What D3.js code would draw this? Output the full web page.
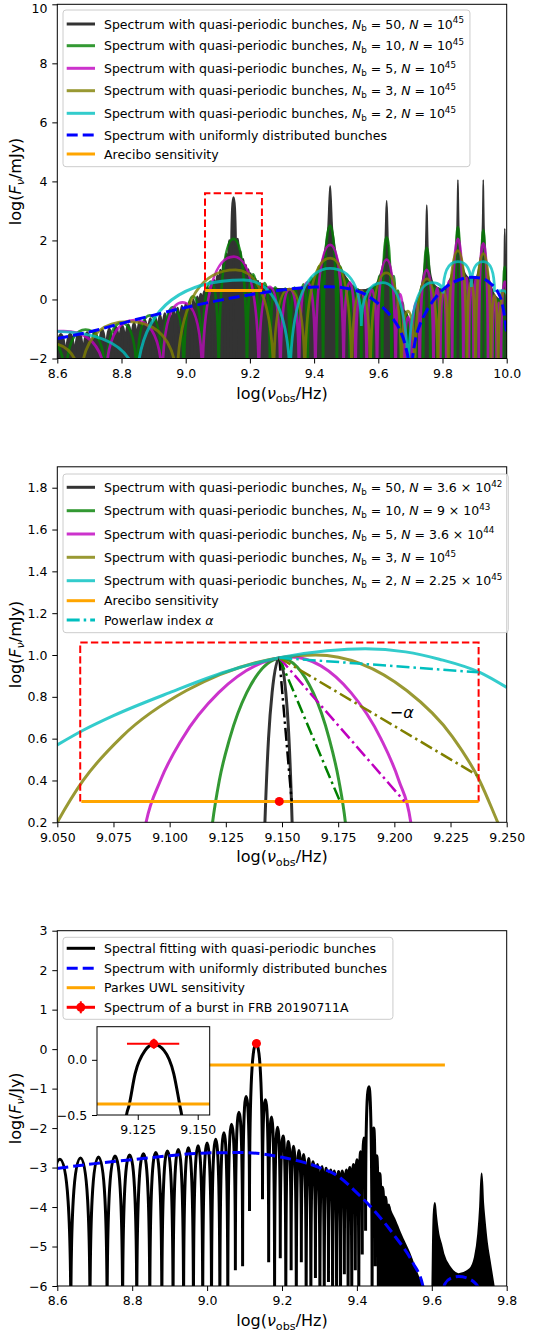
<!DOCTYPE html>
<html lang="en">
<head>
<meta charset="UTF-8">
<title>Spectra with quasi-periodic bunches</title>
<script src="https://d3js.org/d3.v7.min.js"></script>
<style>
  body { margin: 0; background: #fff; }
  svg text { font-family: "DejaVu Sans", sans-serif; white-space: pre; }
</style>
</head>
<body>
<svg id="fig" width="553" height="1333"></svg>
<script>
// ---------------- data (log nu, log F) ----------------
// panel 1: Nb = 50 low-frequency lobes (null, top, null, ...) and dense part envelope
const p1Nb50 = [[8.5964,-2.6],[8.611,-1.18],[8.6263,-2.6],[8.640,-1.17],[8.6544,-2.6],[8.668,-1.14],[8.6807,-2.6],[8.693,-1.12],
  [8.7055,-2.6],[8.717,-1.08],[8.7290,-2.6],[8.740,-1.03],[8.7513,-2.6],[8.762,-0.99],[8.7725,-2.6],[8.783,-0.94],
  [8.7927,-2.6],[8.802,-0.89],[8.8120,-2.6],[8.821,-0.85],[8.8305,-2.6],[8.839,-0.80],[8.8482,-2.6],[8.857,-0.75],
  [8.8652,-2.6],[8.873,-0.71],[8.8816,-2.6],[8.890,-0.65],[8.8974,-2.6],[8.905,-0.60],[8.9126,-2.6],[8.920,-0.54],
  [8.9274,-2.6],[8.935,-0.48],[8.9416,-2.6],[8.949,-0.42],[8.9554,-2.6],[8.962,-0.36],[8.9688,-2.6],[8.975,-0.29],
  [8.9817,-2.6],[8.988,-0.22],[8.9943,-2.6],[9.000,-0.15],[9.0065,-2.6],[9.012,-0.07],[9.0185,-2.6],[9.024,0.0],
  [9.0300,-2.6],[9.036,0.09],[9.0413,-2.6],[9.047,0.18],[9.0523,-2.6],[9.058,0.28],[9.0630,-2.6],[9.068,0.40],
  [9.0735,-2.6],[9.079,0.52],[9.0837,-2.6],[9.089,0.65],[9.0937,-2.6],[9.099,0.81],[9.1035,-2.6],[9.108,1.0],
  [9.1130,-2.6],[9.118,1.23],[9.1224,-2.6],[9.127,1.54],[9.1315,-2.6],[9.136,2.0],[9.1405,-2.6],[9.149,3.45],
  [9.1578,-2.6],[9.162,2.05],[9.1663,-2.6],[9.170,1.63],[9.1745,-2.6],[9.179,1.36],[9.1826,-2.6],[9.187,1.17],
  [9.1906,-2.6],[9.195,1.01],[9.1984,-2.6],[9.202,0.88],[9.2061,-2.6],[9.210,0.79],[9.2137,-2.6],[9.217,0.70],
  [9.2211,-2.6],[9.225,0.62],[9.2284,-2.6],[9.232,0.55],[9.2356,-2.6],[9.239,0.50],[9.2426,-2.6],[9.246,0.45],[9.2496,-2.6]];
const p1Nb50Dense = [[9.246,0.45],[9.26,0.4],[9.28,0.37],[9.30,0.36],[9.341,0.37],[9.383,0.52],[9.404,0.82],[9.417,1.09],
  [9.426,1.36],[9.435,1.75],[9.439,2.05],[9.4435,2.5],[9.447,3.4],[9.45,3.85],[9.453,3.4],[9.4565,2.5],[9.461,2.05],
  [9.465,1.75],[9.474,1.33],[9.483,1.07],[9.496,0.8],[9.517,0.5],[9.547,0.32],[9.581,0.42],[9.596,0.57],[9.604,0.79],
  [9.610,0.99],[9.616,1.32],[9.619,1.6],[9.6217,2.05],[9.6238,2.9],[9.626,3.35],[9.6282,2.9],[9.6303,2.0],[9.633,1.5],
  [9.636,1.25],[9.642,0.85],[9.648,0.55],[9.656,0.2],[9.671,-0.25],[9.69,-0.5],[9.70,-0.8],[9.71,-0.5],[9.717,-0.15],
  [9.728,0.17],[9.735,0.49],[9.739,0.74],[9.7434,1.12],[9.7456,1.41],[9.7477,1.85],[9.7494,2.7],[9.751,3.2],[9.7526,2.7],
  [9.7543,1.85],[9.7564,1.45],[9.7586,1.2],[9.763,0.85],[9.767,0.65],[9.774,0.5],[9.785,0.4],[9.80,0.35],[9.821,0.62],
  [9.83,0.92],[9.835,1.19],[9.8385,1.44],[9.842,1.82],[9.8437,2.11],[9.8454,2.55],[9.8467,3.4],[9.848,4.05],[9.8493,3.4],
  [9.8506,2.55],[9.8523,2.11],[9.854,1.85],[9.8575,1.5],[9.861,1.25],[9.866,1.0],[9.875,0.8],[9.888,0.7],[9.905,0.75],
  [9.912,1.0],[9.916,1.25],[9.919,1.5],[9.922,1.9],[9.9234,2.15],[9.9248,2.6],[9.926,3.4],[9.927,4.05],[9.928,3.4],
  [9.9292,2.55],[9.9306,2.1],[9.932,1.8],[9.935,1.4],[9.938,1.1],[9.943,0.8],[9.95,0.5],[9.96,0.2],[9.975,0.0],
  [9.985,-0.16],[9.9897,0.4],[9.9921,1.1],[9.993,1.9],[9.994,2.4],[9.995,1.9],[9.9959,1.1],[9.998,0.4],[10.0,-0.1],[10.005,-0.6]];
const p1Nb10 = [[8.450,-3],[8.538,-1.15],[8.626,-3],[8.688,-1.02],[8.751,-3],[8.800,-0.79],[8.848,-3],[8.888,-0.54],
  [8.927,-3],[8.961,-0.26],[8.994,-3],[9.023,0.1],[9.052,-3],[9.078,0.6],[9.103,-3],[9.149,2.05],[9.191,-3],[9.210,0.85],
  [9.228,-3],[9.246,0.55],[9.263,-3],[9.279,0.41],[9.295,-3],[9.310,0.37],[9.325,-3],[9.339,0.4],[9.353,-3],[9.367,0.51],
  [9.380,-3],[9.392,0.73],[9.404,-3],[9.416,1.12],[9.428,-3],[9.450,2.5],[9.471,-3],[9.482,1.1],[9.492,-3],[9.502,0.68],
  [9.511,-3],[9.520,0.45],[9.529,-3],[9.538,0.32],[9.547,-3],[9.556,0.27],[9.564,-3],[9.573,0.3],[9.581,-3],[9.589,0.45],
  [9.596,-3],[9.604,0.8],[9.612,-3],[9.626,2.1],[9.641,-3],[9.648,0.79],[9.654,-3],[9.661,0.3],[9.668,-3],[9.675,-0.1],
  [9.681,-3],[9.687,-0.48],[9.693,-3],[9.699,-0.68],[9.705,-3],[9.711,-0.4],[9.717,-3],[9.723,-0.05],[9.729,-3],[9.735,0.44],
  [9.740,-3],[9.751,1.75],[9.762,-3],[9.767,0.59],[9.772,-3],[9.778,0.4],[9.783,-3],[9.788,0.35],[9.793,-3],[9.798,0.32],
  [9.802,-3],[9.807,0.33],[9.812,-3],[9.817,0.46],[9.821,-3],[9.826,0.68],[9.830,-3],[9.835,1.09],[9.839,-3],[9.848,2.45],
  [9.857,-3],[9.861,1.09],[9.865,-3],[9.870,0.72],[9.874,-3],[9.878,0.52],[9.882,-3],[9.886,0.45],[9.890,-3],[9.894,0.45],
  [9.897,-3],[9.901,0.52],[9.905,-3],[9.909,0.72],[9.913,-3],[9.917,1.09],[9.920,-3],[9.927,2.35],[9.935,-3],[9.939,0.99],
  [9.942,-3],[9.945,0.55],[9.948,-3],[9.952,0.3],[9.955,-3],[9.959,0.12],[9.962,-3],[9.966,0.0],[9.969,-3],[9.972,0.0],
  [9.975,-3],[9.979,0.05],[9.982,-3],[9.985,0.3],[9.988,-3],[9.994,1.1],[10.001,-3]];
const p1Nb5 = [[8.450,-3],[8.62,-1.07],[8.751,-3],[8.84,-0.7],[8.927,-3],[8.99,-0.1],[9.052,-3],[9.15,1.45],[9.228,-3],
  [9.262,0.43],[9.295,-3],[9.324,0.35],[9.353,-3],[9.379,0.58],[9.404,-3],[9.45,1.85],[9.492,-3],[9.511,0.58],[9.529,-3],
  [9.547,0.3],[9.564,-3],[9.58,0.33],[9.596,-3],[9.626,1.35],[9.654,-3],[9.668,0.18],[9.681,-3],[9.693,-0.6],[9.705,-3],
  [9.717,-0.12],[9.729,-3],[9.751,1.0],[9.772,-3],[9.783,0.38],[9.793,-3],[9.803,0.35],[9.812,-3],[9.821,0.63],[9.830,-3],
  [9.848,2.05],[9.865,-3],[9.874,0.73],[9.882,-3],[9.89,0.6],[9.897,-3],[9.905,0.73],[9.913,-3],[9.927,1.9],[9.942,-3],
  [9.948,0.48],[9.955,-3],[9.962,0.1],[9.969,-3],[9.975,-0.12],[9.982,-3],[9.994,0.6],[10.006,-3]];
const p1Nb3 = [[8.56,-1.45],[8.672,-3],[8.82,-0.75],[8.973,-3],[9.155,1.0],[9.274,-3],[9.322,0.35],[9.371,-3],[9.45,1.4],
  [9.517,-3],[9.546,0.3],[9.575,-3],[9.625,0.9],[9.672,-3],[9.692,-0.4],[9.7135,-3],[9.752,0.7],[9.786,-3],[9.802,0.35],
  [9.818,-3],[9.848,1.65],[9.876,-3],[9.889,0.6],[9.9026,-3],[9.927,1.55],[9.951,-3],[9.962,0.15],[9.973,-3],[9.994,0.3],[10.0145,-3]];
const p1Nb2 = [[8.58,-1.08],[8.848,-3],[9.18,0.66],[9.325,-3],[9.45,1.05],[9.547,-0.9],[9.614,0.57],[9.693,-3],[9.767,0.57],
  [9.802,0.2],[9.848,1.28],[9.890,0.42],[9.927,1.28],[9.962,0.25],[9.99,0.3],[10.02,-2.5]];
const p1Uniform = [[8.6,-1.32],[8.7,-1.1],[8.8,-0.81],[8.9,-0.53],[9.0,-0.27],[9.1,-0.04],[9.2,0.16],[9.3,0.32],[9.4,0.42],
  [9.45,0.43],[9.5,0.38],[9.55,0.22],[9.6,-0.14],[9.63,-0.45],[9.65,-0.72],[9.67,-1.1],[9.685,-1.6],[9.695,-2.2],[9.70,-3.0],
  [9.705,-2.2],[9.715,-1.4],[9.73,-0.85],[9.75,-0.4],[9.775,0.02],[9.8,0.32],[9.85,0.66],[9.89,0.75],[9.92,0.72],[9.95,0.54],
  [9.97,0.3],[9.985,-0.1],[9.995,-0.7],[10.0,-1.15]];
const areciboBand = [9.0607, 9.2375], areciboLevel = 0.3;
const zoomBoxX = [9.0602, 9.2375], p1ZoomBoxY = [0.3, 3.6], p2ZoomBoxY = [0.3, 1.06];

// panel 2: zoom on the first harmonic
const p2Nb50 = [[9.1418,0.0],[9.1424,0.2],[9.144,0.6],[9.1456,0.82],[9.1488,0.987],[9.1517,0.82],[9.1531,0.6],[9.1545,0.2],[9.155,0.0]];
const p2Nb10 = [[9.117,0.0],[9.1191,0.2],[9.1221,0.4],[9.1267,0.6],[9.1343,0.82],[9.1495,0.985],[9.1639,0.82],[9.171,0.6],[9.1753,0.4],[9.1782,0.2],[9.18,0.0]];
const p2Nb5 = [[9.087,0.05],[9.0895,0.2],[9.0959,0.4],[9.1056,0.6],[9.1218,0.82],[9.154,0.99],[9.1807,0.82],[9.194,0.6],[9.202,0.4],[9.2073,0.2],[9.209,0.05]];
const p2Nb3 = [[9.045,0.1],[9.05,0.2],[9.0615,0.4],[9.0788,0.61],[9.1075,0.83],[9.165,1.0],[9.2055,0.83],[9.2258,0.61],[9.2379,0.4],[9.246,0.2],[9.25,0.1]];
const p2Nb2 = [[9.05,0.57],[9.0615,0.64],[9.075,0.71],[9.1,0.82],[9.125,0.92],[9.1488,0.987],[9.17,1.02],[9.187,1.03],[9.205,1.015],[9.22,0.98],[9.238,0.917],[9.25,0.845]];
const p2PowerStart = [9.1488, 0.987];
const p2PowerEnd = [[9.1543,0.3],[9.1758,0.3],[9.2045,0.3],[9.238,0.418],[9.2375,0.917]];
const p2Peak = [9.1488, 0.3];
const p2AlphaLabel = [9.198, 0.70];

// panel 3: fit of FRB 20190711A
const p3Fit = [[8.5781,-7],[8.607,-2.79],[8.6361,-7],[8.662,-2.76],[8.6873,-7],[8.710,-2.73],[8.7330,-7],[8.754,-2.71],
  [8.7744,-7],[8.793,-2.68],[8.8122,-7],[8.830,-2.65],[8.8470,-7],[8.863,-2.62],[8.8792,-7],[8.894,-2.58],
  [8.9091,-7],[8.923,-2.54],[8.9372,-7],[8.950,-2.5],[8.9635,-7],[8.976,-2.45],[8.9883,-7],[9.000,-2.38],
  [9.0118,-7],[9.023,-2.28],[9.0341,-7],[9.045,-2.12],[9.0553,-7],[9.065,-1.9],[9.0755,-5.6],[9.085,-1.6],
  [9.0948,-5.5],[9.104,-1.2],[9.1132,-4.1],[9.131,0.14],[9.1480,-3.8],[9.156,-1.28],[9.1644,-5.4],[9.172,-1.72],
  [9.1802,-6.5],[9.188,-1.98],[9.1954,-5.3],[9.203,-2.2],[9.2102,-7],[9.217,-2.34],[9.2244,-5.6],[9.231,-2.46],
  [9.2382,-7],[9.245,-2.57],[9.2516,-5.4],[9.258,-2.67],[9.2645,-7],[9.271,-2.77],[9.2771,-7],[9.283,-2.85],
  [9.2893,-5.8],[9.295,-2.92],[9.3012,-7],[9.307,-2.97],[9.3128,-7],[9.318,-3.02],[9.3241,-5.9],[9.330,-3.06],
  [9.3351,-7],[9.340,-3.09],[9.3458,-7],[9.351,-3.1],[9.3563,-7],[9.361,-3.09],[9.3665,-5.7],[9.372,-3.06],
  [9.3765,-7],[9.381,-3.0],[9.3863,-7],[9.391,-2.92],[9.3958,-5.6],[9.400,-2.8],[9.4051,-7],[9.410,-2.6],
  [9.4143,-5.2],[9.419,-2.25],[9.4232,-4.6],[9.432,-0.95],[9.4406,-7],[9.445,-2.0],[9.4490,-5.5],[9.453,-2.7],
  [9.4573,-7],[9.461,-3.15],[9.4654,-7],[9.469,-3.5],[9.4734,-7],[9.477,-3.75],[9.4812,-7],[9.485,-3.95],[9.4889,-7]];
const p3DenseA = [[9.485,-3.95],[9.49,-4.1],[9.5,-4.3],[9.507,-4.46],[9.515,-4.65],[9.524,-4.84],[9.54,-5.17],[9.557,-5.6],[9.567,-5.85],[9.5745,-6.05]];
const p3DenseB = [[9.6015,-6.1],[9.603,-5.0],[9.605,-4.2],[9.608,-3.9],[9.611,-4.2],[9.6175,-4.68],[9.625,-4.95],[9.631,-5.19],
  [9.649,-5.53],[9.671,-5.7],[9.702,-5.57],[9.715,-5.28],[9.724,-4.68],[9.729,-4.0],[9.733,-3.15],[9.737,-3.9],[9.741,-4.34],
  [9.747,-4.9],[9.756,-5.45],[9.766,-6.05]];
const p3UniformA = [[8.6,-3.02],[8.7,-2.9],[8.8,-2.8],[8.9,-2.7],[9.0,-2.63],[9.1,-2.62],[9.2,-2.74],[9.3,-3.0],[9.35,-3.22],
  [9.4,-3.64],[9.45,-4.13],[9.5,-4.72],[9.55,-5.42],[9.575,-5.95],[9.585,-6.4]];
const p3UniformB = [[9.622,-6.4],[9.635,-5.95],[9.652,-5.8],[9.672,-5.76],[9.695,-5.8],[9.718,-5.95],[9.74,-6.3]];
const parkesBand = [8.85, 9.635], parkesLevel = -0.4;
const burst = {x: 9.1317, y: 0.145, xlo: 9.1205, xhi: 9.1423, ylo: 0.1, yhi: 0.19};
const p3Inset = [[9.1195,-0.65],[9.1203,-0.5],[9.1213,-0.42],[9.1239,-0.125],[9.128,0.083],[9.1317,0.14],[9.136,0.083],
  [9.14,-0.125],[9.1426,-0.42],[9.1433,-0.5],[9.1441,-0.65]];

// ticks
const p1XTicks = [8.6, 8.8, 9.0, 9.2, 9.4, 9.6, 9.8, 10.0], p1YTicks = [-2, 0, 2, 4, 6, 8, 10];
const p2XTicks = [9.05, 9.075, 9.1, 9.125, 9.15, 9.175, 9.2, 9.225, 9.25], p2YTicks = [0.2, 0.4, 0.6, 0.8, 1.0, 1.2, 1.4, 1.6, 1.8];
const p3XTicks = [8.6, 8.8, 9.0, 9.2, 9.4, 9.6, 9.8], p3YTicks = [-6, -5, -4, -3, -2, -1, 0, 1, 2, 3];
const insetXTicks = [9.125, 9.15], insetYTicks = [0, -0.5];

// legend labels
const nbList = [50, 10, 5, 3, 2];
const p1NCoef = ["", "", "", "", ""], p1NExp = ["45", "45", "45", "45", "45"];
const p2NCoef = ["3.6", "9", "3.6", "", "2.25"], p2NExp = ["42", "43", "44", "45", "45"];

// ---------------- drawing ----------------
const svg = d3.select("#fig");
const col = {nb50: "#000", nb10: "#008000", nb5: "#bf00bf", nb3: "#808000", nb2: "#00bfbf",
  uni: "#0000ff", sens: "#ffa500", red: "#ff0000"};
const nbColors = [col.nb50, col.nb10, col.nb5, col.nb3, col.nb2];

// lobe-shaped curve: vertical at the lower end of each segment, flat at the upper end
function curveLobe(context) {
  let n = 0, px, py;
  return {
    areaStart() {}, areaEnd() {},
    lineStart() { n = 0; },
    lineEnd() {},
    point(x, y) {
      x = +x; y = +y;
      if (n++ === 0) context.moveTo(x, y);
      else if (y < py) context.quadraticCurveTo(px, y, x, y);
      else context.quadraticCurveTo(x, py, x, y);
      px = x; py = y;
    }
  };
}

const defs = svg.append("defs");
function clipRect(id, x, y) {
  const [a, b] = x.range(), [c, d] = y.range();
  defs.append("clipPath").attr("id", id).append("rect")
    .attr("x", a).attr("y", d).attr("width", b - a).attr("height", c - d);
  return svg.append("g").attr("clip-path", `url(#${id})`);
}

function mathText(t, parts, size) {
  let off = 0;
  parts.forEach(([s, k]) => {
    const sub = k === "sub" || k === "isub", sup = k === "sup";
    const target = sub ? size * 0.22 : sup ? -size * 0.42 : 0;
    const ts = t.append("tspan").attr("dy", target - off).text(s);
    off = target;
    if (sub || sup) ts.attr("font-size", size * 0.7);
    if (k === "i" || k === "isub") ts.attr("font-style", "italic");
  });
}

function axes(x, y, xt, xf, yt, yf, tick) {
  const [x0, x1] = x.range(), [yb, yt0] = y.range();
  const gx = svg.append("g").attr("transform", `translate(0,${yb})`)
    .call(d3.axisBottom(x).tickValues(xt).tickFormat(d3.format(xf)).tickSize(tick).tickPadding(5.5).tickSizeOuter(0));
  const gy = svg.append("g").attr("transform", `translate(${x0},0)`)
    .call(d3.axisLeft(y).tickValues(yt).tickFormat(d3.format(yf)).tickSize(tick).tickPadding(4.8).tickSizeOuter(0));
  [gx, gy].forEach(g => {
    g.select(".domain").remove();
    g.attr("font-size", 12.5);
    g.selectAll("text").attr("fill", "#000");
    g.selectAll("line").attr("stroke", "#000");
  });
  svg.append("rect").attr("x", x0).attr("y", yt0).attr("width", x1 - x0).attr("height", yb - yt0)
    .attr("fill", "none").attr("stroke", "#000").attr("stroke-width", 1);
  return gy;
}

function axisLabels(x, y, unit) {
  const [x0, x1] = x.range(), [yb, yt0] = y.range();
  const tx = svg.append("text").attr("x", (x0 + x1) / 2).attr("y", yb + 40).attr("text-anchor", "middle").attr("font-size", 16);
  mathText(tx, [["log("], ["\u03bd", "i"], ["obs", "sub"], ["/Hz)"]], 16);
  const ty = svg.append("text").attr("transform", `translate(20.5,${(yb + yt0) / 2}) rotate(-90)`)
    .attr("text-anchor", "middle").attr("font-size", 16);
  mathText(ty, [["log("], ["F", "i"], ["\u03bd", "isub"], ["/" + unit + ")"]], 16);
}

function legend(rows, top, bottom) {
  const g = svg.append("g");
  const box = g.append("rect").attr("x", 63).attr("y", top).attr("height", bottom - top).attr("rx", 3)
    .attr("fill", "#fff").attr("fill-opacity", 0.8).attr("stroke", "#ccc").attr("stroke-width", 1);
  let right = 0;
  rows.forEach(r => {
    const h = g.append("line").attr("x1", 66.7).attr("x2", 95).attr("y1", r.y).attr("y2", r.y)
      .attr("stroke", r.color).attr("stroke-width", 3).attr("stroke-opacity", r.op || 1);
    if (r.dash) h.attr("stroke-dasharray", r.dash);
    if (r.marker) {
      g.append("line").attr("x1", 80.8).attr("x2", 80.8).attr("y1", r.y - 6).attr("y2", r.y + 6)
        .attr("stroke", r.color).attr("stroke-width", 2);
      g.append("circle").attr("cx", 80.8).attr("cy", r.y).attr("r", 4.5).attr("fill", r.color);
    }
    const t = g.append("text").attr("x", 104).attr("y", r.y + 4.5).attr("font-size", 12.5);
    mathText(t, r.parts, 12.5);
    const bb = t.node().getBBox();
    right = Math.max(right, bb.x + bb.width);
  });
  box.attr("width", right + 6 - 63);
}

function nbParts(nb, coef, exp) {
  return [["Spectrum with quasi-periodic bunches, "], ["N", "i"], ["b", "sub"], [" = " + nb + ", "], ["N", "i"],
    [" = " + (coef ? coef + " \u00d7 " : "") + "10"], [exp, "sup"]];
}

// ======== panel 1 ========
const x1 = d3.scaleLinear().domain([8.6, 10]).range([57.3, 506.7]);
const y1 = d3.scaleLinear().domain([-2, 10]).range([358.5, 4.3]);
const g1 = clipRect("clip1", x1, y1);
const lobe1 = d3.line().x(d => x1(d[0])).y(d => y1(d[1])).curve(curveLobe);
const smooth1 = d3.line().x(d => x1(d[0])).y(d => y1(d[1])).curve(d3.curveMonotoneX);

g1.append("path").attr("d", lobe1(p1Nb50) + "Z").attr("fill", "#333").attr("stroke", "#333").attr("stroke-width", 2.6);
g1.append("path")
  .attr("d", d3.area().x(d => x1(d[0])).y0(y1(-2.5)).y1(d => y1(d[1])).curve(d3.curveMonotoneX)(p1Nb50Dense))
  .attr("fill", "#333").attr("stroke", "#333").attr("stroke-width", 1.5);
[[p1Nb10, col.nb10], [p1Nb5, col.nb5], [p1Nb3, col.nb3], [p1Nb2, col.nb2]].forEach(([d, c]) => {
  g1.append("path").attr("d", lobe1(d)).attr("fill", "none").attr("stroke", c)
    .attr("stroke-width", 2.8).attr("stroke-opacity", 0.8);
});
g1.append("path").attr("d", smooth1(p1Uniform)).attr("fill", "none").attr("stroke", col.uni)
  .attr("stroke-width", 3).attr("stroke-dasharray", "11,5");
g1.append("path")
  .attr("d", `M${x1(zoomBoxX[0])},${y1(p1ZoomBoxY[0])}V${y1(p1ZoomBoxY[1])}H${x1(zoomBoxX[1])}V${y1(p1ZoomBoxY[0])}`)
  .attr("fill", "none").attr("stroke", col.red).attr("stroke-width", 2).attr("stroke-dasharray", "7.4,3.2");
g1.append("line").attr("x1", x1(areciboBand[0])).attr("x2", x1(areciboBand[1]))
  .attr("y1", y1(areciboLevel)).attr("y2", y1(areciboLevel)).attr("stroke", col.sens).attr("stroke-width", 3);
const gy1 = axes(x1, y1, p1XTicks, ".1f", p1YTicks, "d", 5);
// keep the top label inside the picture
gy1.selectAll(".tick text").filter(d => d === 10).attr("dy", "0.62em");
axisLabels(x1, y1, "mJy");
const p1Rows = [24, 45.7, 68.3, 90.7, 113.3];
legend(nbList.map((nb, i) => ({y: p1Rows[i], color: nbColors[i], op: 0.8, parts: nbParts(nb, p1NCoef[i], p1NExp[i])}))
  .concat([{y: 135, color: col.uni, dash: "11,5", parts: [["Spectrum with uniformly distributed bunches"]]},
           {y: 154, color: col.sens, parts: [["Arecibo sensitivity"]]}]), 10, 166.7);

// ======== panel 2 ========
const x2 = d3.scaleLinear().domain([9.05, 9.25]).range([57.3, 506.7]);
const y2 = d3.scaleLinear().domain([0.2, 1.9]).range([822.3, 466.8]);
const g2 = clipRect("clip2", x2, y2);
const smooth2 = d3.line().x(d => x2(d[0])).y(d => y2(d[1])).curve(d3.curveMonotoneX);
[p2Nb50, p2Nb10, p2Nb5, p2Nb3, p2Nb2].forEach((d, i) => {
  g2.append("path").attr("d", smooth2(d)).attr("fill", "none").attr("stroke", nbColors[i])
    .attr("stroke-width", 3).attr("stroke-opacity", 0.8);
});
g2.append("path")
  .attr("d", `M${x2(zoomBoxX[0])},${y2(p2ZoomBoxY[0])}V${y2(p2ZoomBoxY[1])}H${x2(zoomBoxX[1])}V${y2(p2ZoomBoxY[0])}`)
  .attr("fill", "none").attr("stroke", col.red).attr("stroke-width", 2).attr("stroke-dasharray", "7.4,3.2");
g2.append("line").attr("x1", x2(areciboBand[0])).attr("x2", x2(areciboBand[1]))
  .attr("y1", y2(areciboLevel)).attr("y2", y2(areciboLevel)).attr("stroke", col.sens).attr("stroke-width", 3);
p2PowerEnd.forEach((e, i) => {
  g2.append("line").attr("x1", x2(p2PowerStart[0])).attr("y1", y2(p2PowerStart[1]))
    .attr("x2", x2(e[0])).attr("y2", y2(e[1])).attr("stroke", nbColors[i]).attr("stroke-width", 2.5)
    .attr("stroke-dasharray", "13,4,2.5,4");
});
g2.append("circle").attr("cx", x2(p2Peak[0])).attr("cy", y2(p2Peak[1])).attr("r", 4.5).attr("fill", col.red);
const ta = svg.append("text").attr("x", x2(p2AlphaLabel[0])).attr("y", y2(p2AlphaLabel[1])).attr("font-size", 16);
mathText(ta, [["\u2212"], ["\u03b1", "i"]], 16);
axes(x2, y2, p2XTicks, ".3f", p2YTicks, ".1f", 5);
axisLabels(x2, y2, "mJy");
const p2Rows = [487.3, 510.7, 534, 557.3, 580.7];
legend(nbList.map((nb, i) => ({y: p2Rows[i], color: nbColors[i], op: 0.8, parts: nbParts(nb, p2NCoef[i], p2NExp[i])}))
  .concat([{y: 600.7, color: col.sens, parts: [["Arecibo sensitivity"]]},
           {y: 620, color: col.nb2, dash: "13,4,2.5,4", parts: [["Powerlaw index "], ["\u03b1", "i"]]}]), 474, 632.7);

// ======== panel 3 ========
const x3 = d3.scaleLinear().domain([8.6, 9.8]).range([57.3, 506.7]);
const y3 = d3.scaleLinear().domain([-6, 3]).range([1286, 930.7]);
const g3 = clipRect("clip3", x3, y3);
const lobe3 = d3.line().x(d => x3(d[0])).y(d => y3(d[1])).curve(curveLobe);
const smooth3 = d3.line().x(d => x3(d[0])).y(d => y3(d[1])).curve(d3.curveMonotoneX);
const area3 = d3.area().x(d => x3(d[0])).y0(y3(-6.5)).y1(d => y3(d[1])).curve(d3.curveMonotoneX);
g3.append("path").attr("d", lobe3(p3Fit)).attr("fill", "none").attr("stroke", "#000").attr("stroke-width", 3);
[p3DenseA, p3DenseB].forEach(d => {
  g3.append("path").attr("d", area3(d)).attr("fill", "#000").attr("stroke", "#000").attr("stroke-width", 2);
});
[p3UniformA, p3UniformB].forEach(d => {
  g3.append("path").attr("d", smooth3(d)).attr("fill", "none").attr("stroke", col.uni)
    .attr("stroke-width", 3).attr("stroke-dasharray", "11,5");
});
g3.append("line").attr("x1", x3(parkesBand[0])).attr("x2", x3(parkesBand[1]))
  .attr("y1", y3(parkesLevel)).attr("y2", y3(parkesLevel)).attr("stroke", col.sens).attr("stroke-width", 3);
function burstMark(g, x, y) {
  g.append("line").attr("x1", x(burst.xlo)).attr("x2", x(burst.xhi)).attr("y1", y(burst.y)).attr("y2", y(burst.y))
    .attr("stroke", col.red).attr("stroke-width", 2);
  g.append("line").attr("x1", x(burst.x)).attr("x2", x(burst.x)).attr("y1", y(burst.ylo)).attr("y2", y(burst.yhi))
    .attr("stroke", col.red).attr("stroke-width", 2);
  g.append("circle").attr("cx", x(burst.x)).attr("cy", y(burst.y)).attr("r", 4.5).attr("fill", col.red);
}
burstMark(g3, x3, y3);
axes(x3, y3, p3XTicks, ".1f", p3YTicks, "d", 5);
axisLabels(x3, y3, "Jy");
legend([{y: 948.3, color: "#000", parts: [["Spectral fitting with quasi-periodic bunches"]]},
        {y: 968.3, color: col.uni, dash: "11,5", parts: [["Spectrum with uniformly distributed bunches"]]},
        {y: 987.7, color: col.sens, parts: [["Parkes UWL sensitivity"]]},
        {y: 1007.3, color: col.red, marker: true, parts: [["Spectrum of a burst in FRB 20190711A"]]}], 937.3, 1019.3);

// inset
const xi = d3.scaleLinear().domain([9.108, 9.155]).range([97, 209.7]);
const yi = d3.scaleLinear().domain([-0.5, 0.3]).range([1115, 1026.7]);
svg.append("rect").attr("x", 97).attr("y", 1026.7).attr("width", 112.7).attr("height", 88.3).attr("fill", "#fff");
const gi = clipRect("clipI", xi, yi);
gi.append("path").attr("d", d3.line().x(d => xi(d[0])).y(d => yi(d[1])).curve(d3.curveMonotoneX)(p3Inset))
  .attr("fill", "none").attr("stroke", "#000").attr("stroke-width", 3);
gi.append("line").attr("x1", xi(parkesBand[0])).attr("x2", xi(parkesBand[1]))
  .attr("y1", yi(parkesLevel)).attr("y2", yi(parkesLevel)).attr("stroke", col.sens).attr("stroke-width", 3);
burstMark(gi, xi, yi);
axes(xi, yi, insetXTicks, ".3f", insetYTicks, ".1f", 5);
</script>
</body>
</html>
